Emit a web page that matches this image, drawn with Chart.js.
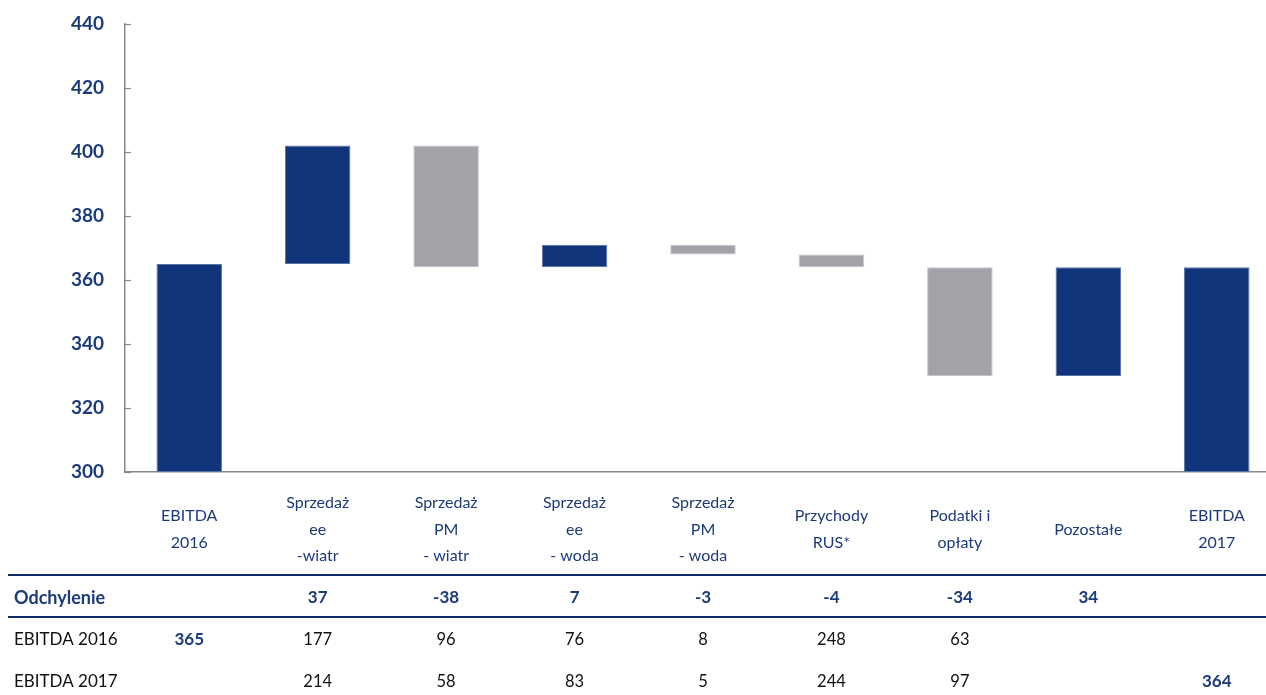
<!DOCTYPE html>
<html>
<head>
<meta charset="utf-8">
<script src="https://cdn.jsdelivr.net/npm/chart.js@4.4.1/dist/chart.umd.min.js"></script>
<style>
  html, body { margin: 0; padding: 0; background: #fff; }
  #clip { width: 1266px; height: 695px; overflow: hidden; position: relative; }
  #box { width: 1281px; height: 695px; position: absolute; left: 0; top: 0; }
</style>
</head>
<body>
<div id="clip"><div id="box"><canvas id="waterfall"></canvas></div></div>
<script>
const categories = [
  ["EBITDA", "2016"],
  ["Sprzedaż", "ee", "-wiatr"],
  ["Sprzedaż", "PM", "- wiatr"],
  ["Sprzedaż", "ee", "- woda"],
  ["Sprzedaż", "PM", "- woda"],
  ["Przychody", "RUS*"],
  ["Podatki i", "opłaty"],
  "Pozostałe",
  ["EBITDA", "2017"],
];
// floating bar ranges
const barFrom = [300, 365, 364, 364, 368, 364, 330, 330, 300];
const barTo = [365, 402, 402, 371, 371, 368, 364, 364, 364];

// table under the chart
const rowLabels = ["Odchylenie", "EBITDA 2016", "EBITDA 2017"];
const odchylenie = [null, 37, -38, 7, -3, -4, -34, 34, null];
const ebitda2016 = [365, 177, 96, 76, 8, 248, 63, null, null];
const ebitda2017 = [null, 214, 58, 83, 5, 244, 97, null, 364];

const yTicks = [300, 320, 340, 360, 380, 400, 420, 440];

const BLUE = "#10357b";
const GRAY = "#a4a1a9";
const TEXT_BLUE = "#1b3a7c";
const FONT = "Lato, 'Open Sans', sans-serif";

// totals (no deviation) and positive steps are blue, negative steps gray
const colors = odchylenie.map(v => (v === null || v > 0) ? BLUE : GRAY);
const borders = odchylenie.map(v => (v === null || v > 0) ? "#5b74a8" : "#c4c2c8");

const tablePlugin = {
  id: "table",
  afterDraw(chart) {
    const { ctx, scales: { x, y } } = chart;
    ctx.save();
    // inner tick marks on the value axis
    ctx.strokeStyle = "#8a8a8a";
    ctx.lineWidth = 1.2;
    yTicks.forEach(v => {
      const py = Math.round(y.getPixelForValue(v)) + 0.5;
      ctx.beginPath();
      ctx.moveTo(x.left, py);
      ctx.lineTo(x.left + 6, py);
      ctx.stroke();
    });

    // table rule lines
    ctx.strokeStyle = "#0d2a6b";
    ctx.lineWidth = 2;
    [575, 617].forEach(py => {
      ctx.beginPath();
      ctx.moveTo(8, py);
      ctx.lineTo(chart.width, py);
      ctx.stroke();
    });

    const rows = [odchylenie, ebitda2016, ebitda2017];
    const rowY = [598, 640, 682];
    ctx.textBaseline = "middle";
    rows.forEach((row, r) => {
      ctx.textAlign = "left";
      ctx.font = r === 0 ? "bold 18px " + FONT : "17px " + FONT;
      ctx.fillStyle = r === 0 ? TEXT_BLUE : "#111";
      ctx.fillText(rowLabels[r], 14, rowY[r]);
      ctx.textAlign = "center";
      row.forEach((v, i) => {
        if (v === null) return;
        const bold = r === 0 || i === 0 || i === row.length - 1;
        ctx.font = (bold ? "bold 17px " : "16.5px ") + FONT;
        ctx.fillStyle = bold ? TEXT_BLUE : "#111";
        ctx.fillText(String(v), x.getPixelForValue(i), rowY[r]);
      });
    });
    ctx.restore();
  },
};

new Chart(document.getElementById("waterfall"), {
  type: "bar",
  data: {
    labels: categories,
    datasets: [
      {
        data: barFrom.map((v, i) => [v, barTo[i]]),
        backgroundColor: colors,
        borderColor: borders,
        borderWidth: 1,
        borderSkipped: false,
      },
    ],
  },
  options: {
    responsive: true,
    maintainAspectRatio: false,
    animation: false,
    barPercentage: 0.51,
    categoryPercentage: 1,
    layout: { padding: { top: 24, left: 0, right: 0, bottom: 0 } },
    plugins: {
      legend: { display: false },
      tooltip: { enabled: false },
    },
    scales: {
      x: {
        afterFit(scale) { scale.height = 223; },
        grid: { display: false, drawTicks: false },
        border: { display: true, color: "#8a8a8a", width: 1.5 },
        ticks: {
          color: TEXT_BLUE,
          font: { family: FONT, size: 16, lineHeight: 1.66 },
          padding: 31,
          crossAlign: "center",
          maxRotation: 0,
          autoSkip: false,
        },
      },
      y: {
        min: 300,
        max: 440,
        afterFit(scale) {
          scale.width = 125;
          scale.paddingTop = 0;
          scale.paddingBottom = 0;
        },
        grid: { display: false, drawTicks: false },
        border: { display: true, color: "#8a8a8a", width: 1.5 },
        ticks: {
          stepSize: 20,
          padding: 21,
          color: TEXT_BLUE,
          font: { family: FONT, size: 19, weight: "bold" },
        },
      },
    },
  },
  plugins: [tablePlugin],
});
</script>
</body>
</html>
